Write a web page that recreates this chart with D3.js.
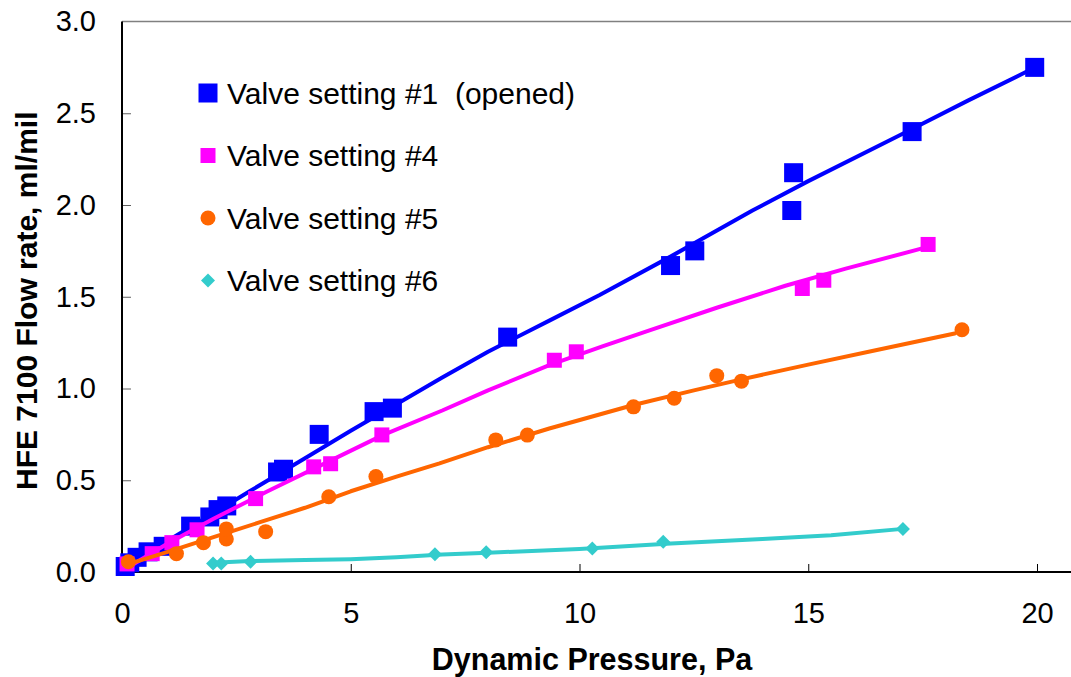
<!DOCTYPE html>
<html>
<head>
<meta charset="utf-8">
<script src="https://cdn.jsdelivr.net/npm/d3@7"></script>
<style>
  html, body { margin: 0; padding: 0; background: #fff; }
  svg { display: block; font-family: "Liberation Sans", Arial, sans-serif; }
</style>
</head>
<body>
<svg id="chart" width="1071" height="677"></svg>
<script>
// Measured points: [dynamic pressure (Pa), flow rate (ml/mil)]
const valve1Points = [
  [0.07, 0.03], [0.17, 0.05], [0.33, 0.08], [0.57, 0.11], [0.90, 0.14],
  [1.50, 0.25], [1.92, 0.30], [2.10, 0.34], [2.29, 0.36], [3.40, 0.545],
  [3.53, 0.56], [4.31, 0.75], [5.51, 0.874], [5.91, 0.893], [8.43, 1.28],
  [11.99, 1.67], [12.52, 1.75], [14.64, 1.97], [14.68, 2.176], [17.27, 2.40],
  [19.95, 2.75]
];
const valve4Points = [
  [0.11, 0.044], [0.66, 0.10], [1.09, 0.16], [1.64, 0.23], [2.92, 0.40],
  [4.19, 0.573], [4.56, 0.59], [5.68, 0.747], [9.45, 1.154], [9.93, 1.20],
  [14.87, 1.545], [15.34, 1.59], [17.62, 1.785]
];
const valve5Points = [
  [0.14, 0.056], [1.19, 0.10], [1.78, 0.16], [2.28, 0.18], [2.28, 0.235],
  [3.14, 0.22], [4.52, 0.41], [5.55, 0.52], [8.17, 0.72], [8.86, 0.746],
  [11.18, 0.90], [12.07, 0.947], [13.0, 1.07], [13.54, 1.04], [18.36, 1.32]
];
const valve6Points = [
  [1.99, 0.047], [2.17, 0.047], [2.81, 0.056], [6.84, 0.097], [7.96, 0.107],
  [10.28, 0.128], [11.83, 0.165], [17.07, 0.235]
];

// Fitted curves for each valve setting
const valve1Fit = [
  [0.1, 0.02], [1, 0.17], [2, 0.32], [2.79, 0.44], [4, 0.62], [5, 0.77],
  [6.11, 0.93], [7, 1.06], [8, 1.20], [9.34, 1.37], [10.44, 1.51], [12, 1.72],
  [13.78, 1.97], [15, 2.13], [17, 2.38], [18.5, 2.57], [19.8, 2.73]
];
const valve4Fit = [
  [0.1, 0.02], [1, 0.155], [2, 0.29], [3.16, 0.437], [4.5, 0.60], [5.7, 0.746],
  [7, 0.88], [8, 0.99], [9.34, 1.127], [10.5, 1.23], [11.53, 1.317], [13, 1.44],
  [14.5, 1.56], [15.82, 1.653], [17.47, 1.762]
];
const valve5Fit = [
  [0.1, 0.04], [1, 0.11], [2, 0.19], [3, 0.27], [4, 0.35], [5, 0.44],
  [6, 0.52], [6.94, 0.592], [8, 0.68], [9.34, 0.782], [11.18, 0.91],
  [12.5, 0.99], [13.54, 1.05], [15, 1.13], [16.5, 1.21], [18.2, 1.30]
];
const valve6Fit = [
  [2.0, 0.05], [2.8, 0.06], [4, 0.065], [5, 0.07], [6, 0.08], [7, 0.095],
  [8, 0.105], [10, 0.125], [12, 0.155], [14, 0.18], [15.5, 0.20], [17.07, 0.235]
];

const seriesNames = [
  "Valve setting #1  (opened)",
  "Valve setting #4",
  "Valve setting #5",
  "Valve setting #6"
];
const xTicks = [0, 5, 10, 15, 20];
const yTicks = [0.0, 0.5, 1.0, 1.5, 2.0, 2.5, 3.0];
const xTitle = "Dynamic Pressure, Pa";
const yTitle = "HFE 7100 Flow rate, ml/mil";

const series = [
  { name: seriesNames[0], points: valve1Points, fit: valve1Fit, color: "#0000FF", shape: "square", size: 19 },
  { name: seriesNames[1], points: valve4Points, fit: valve4Fit, color: "#FF00FF", shape: "square", size: 15 },
  { name: seriesNames[2], points: valve5Points, fit: valve5Fit, color: "#FF6600", shape: "circle", size: 15 },
  { name: seriesNames[3], points: valve6Points, fit: valve6Fit, color: "#33CCCC", shape: "diamond", size: 14 }
];

const svg = d3.select("#chart");
const plot = { left: 122, top: 21.5, right: 1071, bottom: 572 };

const x = d3.scaleLinear().domain([0, 20]).range([122, 1037]);
const y = d3.scaleLinear().domain([0, 3]).range([plot.bottom, plot.top]);

// Plot frame: gray top edge
svg.append("line")
  .attr("x1", plot.left).attr("x2", plot.right)
  .attr("y1", plot.top).attr("y2", plot.top)
  .attr("stroke", "#808080").attr("stroke-width", 1.5);

// Axes with ticks pointing into the plot
const xAxis = d3.axisBottom(x).tickValues(xTicks).tickSize(-8).tickPadding(30)
  .tickFormat(d3.format("d"));
const yAxis = d3.axisLeft(y).tickValues(yTicks).tickSize(-9).tickPadding(26)
  .tickFormat(d3.format(".1f"));

const gx = svg.append("g").attr("transform", `translate(0,${plot.bottom})`).call(xAxis);
const gy = svg.append("g").attr("transform", `translate(${plot.left},0)`).call(yAxis);

[gx, gy].forEach(g => {
  g.select(".domain").remove();
  g.selectAll(".tick line").attr("stroke", "#000").attr("stroke-width", 1);
  g.selectAll(".tick text").attr("fill", "#000")
    .style("font-size", "29px").style("font-family", "'Liberation Sans', Arial, sans-serif");
});
gy.selectAll(".tick line").attr("stroke", "#606060");
gy.selectAll(".tick").filter(d => d === 0 || d === 3).select("line").remove();
gx.selectAll(".tick").filter(d => d === 0).select("line").remove();

// Axis lines
svg.append("line")
  .attr("x1", plot.left).attr("x2", plot.left)
  .attr("y1", plot.top).attr("y2", plot.bottom + 0.5)
  .attr("stroke", "#000").attr("stroke-width", 2);
svg.append("line")
  .attr("x1", plot.left).attr("x2", plot.right)
  .attr("y1", plot.bottom).attr("y2", plot.bottom)
  .attr("stroke", "#000").attr("stroke-width", 2);

// Axis titles
svg.append("text")
  .attr("x", 592).attr("y", 670)
  .attr("text-anchor", "middle")
  .style("font-size", "30.5px").style("font-weight", "bold")
  .text(xTitle);
svg.append("text")
  .attr("transform", `translate(37,${(plot.top + plot.bottom) / 2 + 4}) rotate(-90)`)
  .attr("text-anchor", "middle")
  .style("font-size", "30px").style("font-weight", "bold")
  .text(yTitle);

// Marker drawing helper
function drawMarker(g, shape, size, color) {
  if (shape === "square") {
    g.append("rect")
      .attr("x", -size / 2).attr("y", -size / 2)
      .attr("width", size).attr("height", size)
      .attr("fill", color);
  } else if (shape === "circle") {
    g.append("circle").attr("r", size / 2).attr("fill", color);
  } else {
    const h = size / 2;
    g.append("path")
      .attr("d", `M0,${-h}L${h},0L0,${h}L${-h},0Z`)
      .attr("fill", color);
  }
}

const line = d3.line().x(d => x(d[0])).y(d => y(d[1]));

const plotArea = svg.append("g");
series.forEach(s => {
  plotArea.append("path")
    .datum(s.fit)
    .attr("d", line)
    .attr("fill", "none")
    .attr("stroke", s.color)
    .attr("stroke-width", 4)
    .attr("stroke-linejoin", "round")
    .attr("stroke-linecap", "round");
  plotArea.selectAll(null)
    .data(s.points)
    .enter().append("g")
    .attr("transform", d => `translate(${x(d[0])},${y(d[1])})`)
    .each(function () { drawMarker(d3.select(this), s.shape, s.size, s.color); });
});

// Legend
const legend = svg.append("g");
const legendRowY = [93, 155.5, 218, 280.5];
series.forEach((s, i) => {
  const row = legend.append("g").attr("transform", `translate(208,${legendRowY[i]})`);
  drawMarker(row, s.shape, s.size, s.color);
  row.append("text")
    .attr("x", 19).attr("y", 10.5)
    .style("font-size", "30px")
    .style("white-space", "pre")
    .attr("fill", "#000")
    .text(s.name);
});
</script>
</body>
</html>
